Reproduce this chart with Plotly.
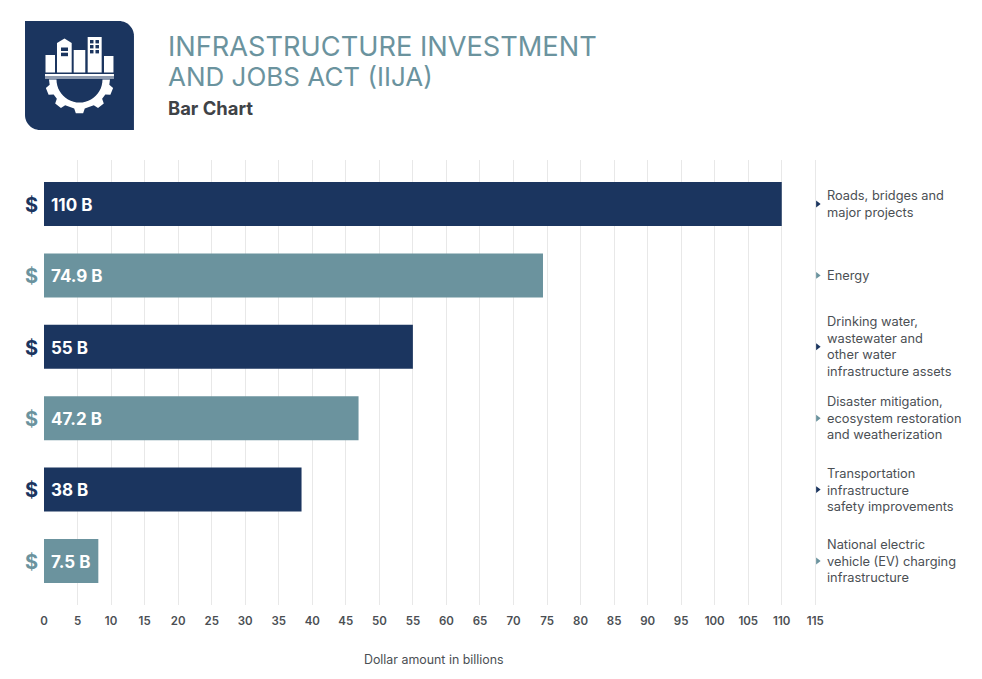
import math
import plotly.graph_objects as go

categories = ["Roads, bridges and<br>major projects", "Energy",
              "Drinking water,<br>wastewater and<br>other water<br>infrastructure assets",
              "Disaster mitigation,<br>ecosystem restoration<br>and weatherization",
              "Transportation<br>infrastructure<br>safety improvements",
              "National electric<br>vehicle (EV) charging<br>infrastructure"]
values = [110, 74.4, 55, 46.9, 38.4, 8.1]
value_labels = ["110 B", "74.9 B", "55 B", "47.2 B", "38 B", "7.5 B"]
tick_values = list(range(0, 120, 5))

NAVY = "#1b355f"
TEAL = "#6b939e"
colors = [NAVY, TEAL, NAVY, TEAL, NAVY, TEAL]
TEXT = "#4b4f54"
FONT = "Inter"
W, H = 982, 679
X_MAX = 116
L, R, T, B = 44, 44 + 6.71 * X_MAX, 160, 605


def px(x, y):
    return (x - L) / (R - L), (B - y) / (B - T)


def path(points):
    parts = []
    for i, (x, y) in enumerate(points):
        a, b = px(x, y)
        parts.append(("M" if i == 0 else "L") + f"{a:.5f},{b:.5f}")
    return " ".join(parts) + " Z"


def arc(cx, cy, r, a0, a1, n=14):
    return [(cx + r * math.cos(math.radians(a0 + (a1 - a0) * i / n)),
             cy + r * math.sin(math.radians(a0 + (a1 - a0) * i / n))) for i in range(n + 1)]


def poly(points, color):
    return dict(type="path", xref="paper", yref="paper", path=path(points),
                fillcolor=color, line=dict(width=0), layer="above")


def rect(x0, y0, x1, y1, color):
    return poly([(x0, y0), (x1, y0), (x1, y1), (x0, y1)], color)


rad = 15
badge = ([(25, 21), (134 - rad, 21)] + arc(134 - rad, 21 + rad, rad, -90, 0)
         + [(134, 130), (25 + rad, 130)] + arc(25 + rad, 130 - rad, rad, 90, 180))

shapes = [poly(badge, NAVY)]
shapes += [rect(45.5, 55, 55, 72.5, "white"),
           poly([(57, 72.5), (57, 43), (64.5, 38.5), (71.7, 43), (71.7, 72.5)], "white"),
           rect(61, 47.5, 68, 51, NAVY), rect(61, 52.7, 68, 56.2, NAVY),
           rect(73.7, 50, 85.3, 72.5, "white"),
           rect(87.7, 37, 101.7, 72.5, "white"),
           rect(104, 56, 113.5, 72.5, "white"),
           rect(45, 74, 114, 76.6, "white"), rect(45, 77.4, 114, 78.4, "white")]
for wy in (40, 45, 50):
    shapes += [rect(90, wy, 93.5, wy + 3.4, NAVY), rect(95.5, wy, 99, wy + 3.4, NAVY)]

# gear below the deck
cx, cy = 79.5, 78.4
outer, tooth, inner = 30.5, 35, 23
ring = []
for c in (22, 52, 90, 128, 158):
    for off, r in ((-10, outer), (-6, tooth), (6, tooth), (10, outer)):
        ring.append((cx + r * math.cos(math.radians(c + off)), cy + r * math.sin(math.radians(c + off))))
shapes.append(poly([(cx + outer, cy + 1.2)] + ring + [(cx - outer, cy + 1.2)]
                   + arc(cx, cy + 1.2, inner, 180, 0, 24), "white"))

y_pos = list(range(len(values)))

fig = go.Figure()
fig.add_trace(go.Bar(y=y_pos, x=values, orientation="h", marker=dict(color=colors, line=dict(width=0)),
                     width=0.616, hoverinfo="skip", showlegend=False))
fig.add_trace(go.Scatter(y=y_pos, x=[115.35] * len(values), mode="markers", cliponaxis=False,
                         marker=dict(symbol="triangle-right", size=6, color=colors),
                         hoverinfo="skip", showlegend=False))

ann = []
for i, (cat, lab, col) in enumerate(zip(categories, value_labels, colors)):
    ann.append(dict(x=0, y=i, xref="x", yref="y", text=lab, showarrow=False, xanchor="left", xshift=4.5, yshift=-0.8,
                    font=dict(family=FONT, size=17, color="white", weight=700)))
    ann.append(dict(x=0, y=i, xref="x", yref="y", text="$", showarrow=False, xanchor="center", xshift=-13, yshift=-0.8,
                    font=dict(family=FONT, size=20, color=col, weight=700)))
    ann.append(dict(x=115, y=i, xref="x", yref="y", text=cat, showarrow=False, xanchor="left", align="left",
                    xshift=11, font=dict(family=FONT, size=12.8, color=TEXT), borderpad=0))

for text, x, y, size, col, weight in [("INFRASTRUCTURE INVESTMENT", 168, 46.5, 27.2, TEAL, 400),
                                      ("AND JOBS ACT (IIJA)", 168, 76.5, 26, TEAL, 400),
                                      ("Bar Chart", 168, 108, 18.4, "#3f4347", 700)]:
    a, b = px(x, y)
    ann.append(dict(x=a, y=b, xref="paper", yref="paper", text=text, showarrow=False, xanchor="left",
                    yanchor="middle", xshift=-2, font=dict(family=FONT, size=size, color=col, weight=weight)))
a, b = px(434, 659)
ann.append(dict(x=a, y=b, xref="paper", yref="paper", text="Dollar amount in billions", showarrow=False,
                xanchor="center", yanchor="middle", font=dict(family=FONT, size=12.4, color=TEXT)))

fig.update_layout(
    width=W, height=H, autosize=False,
    margin=dict(l=L, r=W - R, t=T, b=H - B, pad=0),
    paper_bgcolor="white", plot_bgcolor="white",
    xaxis=dict(range=[0, X_MAX], tickmode="array", tickvals=tick_values, ticks="", showline=False,
               showgrid=True, gridcolor="#e8e8e8", gridwidth=1.2, zeroline=False,
               tickfont=dict(family=FONT, size=11.5, color=TEXT, weight=600), ticklabelstandoff=7),
    yaxis=dict(range=[5.616, -0.616], showticklabels=False, showgrid=False, zeroline=False, ticks=""),
    shapes=shapes, annotations=ann, font=dict(family=FONT),
)
fig.write_html("out.html", config=dict(displayModeBar=False),
               post_script="document.body.style.margin='0';document.body.style.overflow='hidden';")
